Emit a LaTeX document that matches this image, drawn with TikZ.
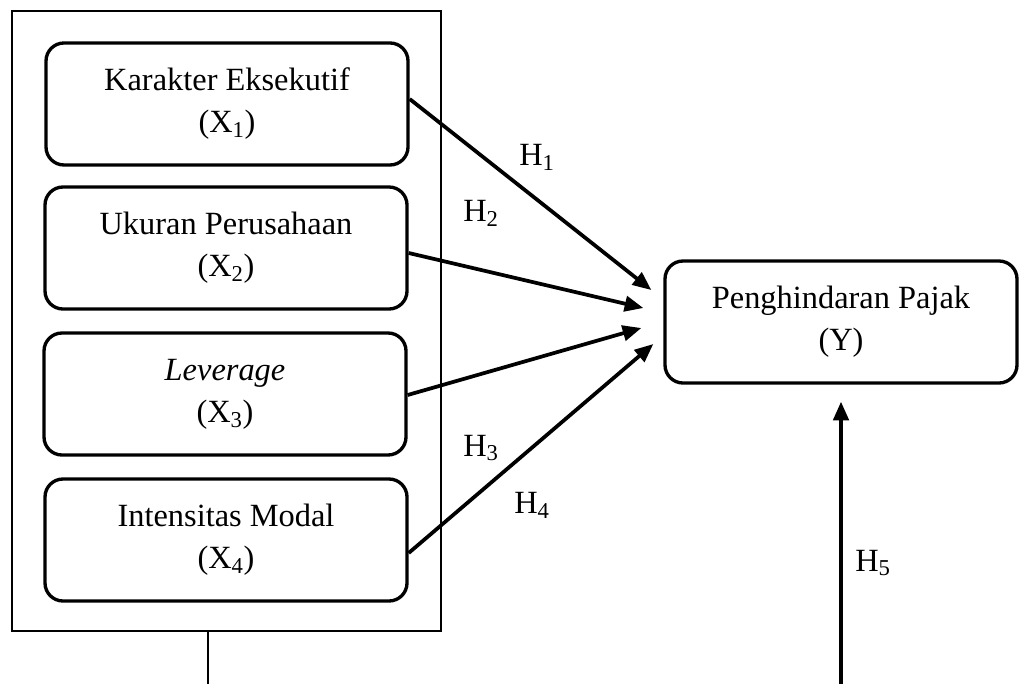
\documentclass[tikz,border=0pt]{standalone}
\usepackage{fontspec}
\setmainfont{Liberation Serif}
\usetikzlibrary{arrows.meta,calc}
\begin{document}
\begin{tikzpicture}[x=0.75pt,y=-0.75pt,
  txt/.style={font=\fontsize{24.3}{31.5}\selectfont},
  varbox/.style={draw,line width=2.5pt,rounded corners=13.5pt,align=center,
    minimum width=271.5pt,minimum height=91.5pt,inner sep=0pt,txt},
  outerbox/.style={draw,line width=1.7pt,minimum width=321.75pt,minimum height=465pt,inner sep=0pt},
  arr/.style={line width=2.8pt,-{Triangle[length=14pt,width=11.5pt]}},
  hlabel/.style={txt,inner sep=0pt}]
\useasboundingbox (0,0) rectangle (1019,684);
\node[outerbox] (outer) at (226.5,321) {};
\node[varbox] (b1) at (227,104) {Karakter Eksekutif\\(X\textsubscript{1})};
\node[varbox] (b2) at (226,248) {Ukuran Perusahaan\\(X\textsubscript{2})};
\node[varbox] (b3) at (225,394) {\textit{Leverage}\\(X\textsubscript{3})};
\node[varbox] (b4) at (226,540) {Intensitas Modal\\(X\textsubscript{4})};
\node[varbox,minimum width=264pt] (y) at (841,322) {Penghindaran Pajak\\(Y)};
\draw[arr] ($(b1.east)+(0,-5)$) -- ($(y.west)+(-12,-32)$);
\draw[arr] ($(b2.east)+(0,5)$) -- ($(y.west)+(-20,-14)$);
\draw[arr] ($(b3.east)+(0,1)$) -- ($(y.west)+(-22,6)$);
\draw[arr] ($(b4.east)+(0,13)$) -- ($(y.west)+(-10,22)$);
\coordinate (h5s) at (841,686);
\draw[arr] (h5s) -- ($(y.south)+(0,17)$);
\coordinate (ls) at ($(outer.south)+(-18.5,0)$);
\coordinate (le) at (208,686);
\draw[line width=0.8pt] (ls) -- (le);
\node[hlabel] (h1) at (537,157) {H\textsubscript{1}};
\node[hlabel] (h2) at (481,213) {H\textsubscript{2}};
\node[hlabel] (h3) at (481,448) {H\textsubscript{3}};
\node[hlabel] (h4) at (532,505) {H\textsubscript{4}};
\node[hlabel] (h5) at (873,563) {H\textsubscript{5}};
\end{tikzpicture}
\end{document}
